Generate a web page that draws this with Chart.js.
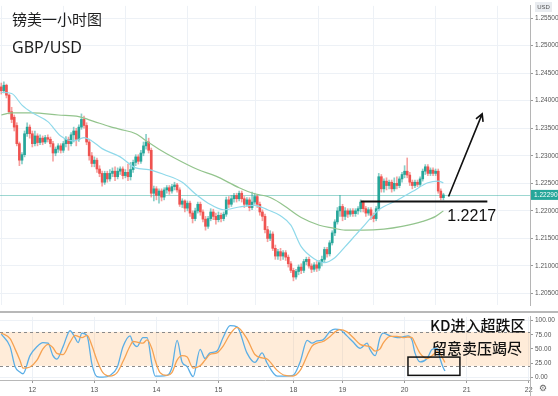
<!DOCTYPE html>
<html>
<head>
<meta charset="utf-8">
<script src="https://cdn.jsdelivr.net/npm/chart.js@4.4.0/dist/chart.umd.min.js"></script>
<style>
html, body { margin: 0; padding: 0; background: #fff; }
#wrap { position: relative; width: 558px; height: 396px; overflow: hidden; }
#pricebox { position: absolute; left: 0; top: 0; width: 558px; height: 311px; }
#kdbox { position: absolute; left: 0; top: 311px; width: 558px; height: 85px; }
</style>
</head>
<body>
<div id="wrap">
	<div id="pricebox"><canvas id="price"></canvas></div>
	<div id="kdbox"><canvas id="kd"></canvas></div>
</div>
<script>
// hourly candles, index 0 = first bar on the left
const opens = [
	1.2425,1.2418,1.2428,1.2410,1.2380,1.2370,1.2355,1.2322,1.2292,1.2302,
	1.2340,1.2352,1.2340,1.2322,1.2336,1.2324,1.2332,1.2325,1.2333,1.2330,
	1.2322,1.2305,1.2312,1.2318,1.2310,1.2322,1.2330,1.2322,1.2338,1.2345,
	1.2330,1.2352,1.2366,1.2355,1.2325,1.2300,1.2286,1.2292,1.2276,1.2268,
	1.2252,1.2268,1.2258,1.2268,1.2272,1.2262,1.2272,1.2276,1.2264,1.2270,
	1.2262,1.2275,1.2288,1.2298,1.2290,1.2305,1.2318,1.2325,1.2310,1.2232,
	1.2240,1.2228,1.2236,1.2225,1.2238,1.2242,1.2236,1.2244,1.2247,1.2238,
	1.2212,1.2218,1.2205,1.2214,1.2196,1.2186,1.2200,1.2212,1.2198,1.2185,
	1.2172,1.2186,1.2198,1.2190,1.2184,1.2192,1.2186,1.2194,1.2220,1.2212,
	1.2222,1.2228,1.2222,1.2232,1.2222,1.2212,1.2220,1.2206,1.2216,1.2226,
	1.2212,1.2198,1.2190,1.2166,1.2150,1.2158,1.2132,1.2118,1.2126,1.2118,
	1.2124,1.2116,1.2104,1.2092,1.2080,1.2090,1.2098,1.2092,1.2108,1.2112,
	1.2100,1.2094,1.2102,1.2096,1.2106,1.2112,1.2130,1.2122,1.2142,1.2160,
	1.2180,1.2200,1.2208,1.2190,1.2200,1.2194,1.2200,1.2195,1.2200,1.2204,
	1.2216,1.2204,1.2196,1.2202,1.2192,1.2186,1.2204,1.2262,1.2240,1.2254,
	1.2246,1.2252,1.2240,1.2250,1.2246,1.2258,1.2266,1.2272,1.2265,1.2252,
	1.2246,1.2252,1.2248,1.2258,1.2272,1.2280,1.2268,1.2274,1.2268,1.2272,
	1.2236,1.2224
];
const closes = [
	1.2418,1.2428,1.2410,1.2380,1.2366,1.2352,1.2322,1.2292,1.2302,1.2340,
	1.2352,1.2340,1.2322,1.2336,1.2324,1.2332,1.2325,1.2333,1.2330,1.2322,
	1.2305,1.2312,1.2318,1.2310,1.2322,1.2330,1.2322,1.2338,1.2345,1.2330,
	1.2352,1.2366,1.2355,1.2325,1.2300,1.2286,1.2292,1.2276,1.2268,1.2252,
	1.2268,1.2258,1.2268,1.2272,1.2262,1.2272,1.2276,1.2264,1.2270,1.2262,
	1.2275,1.2288,1.2298,1.2290,1.2305,1.2318,1.2325,1.2310,1.2232,1.2240,
	1.2228,1.2236,1.2225,1.2238,1.2242,1.2236,1.2244,1.2247,1.2238,1.2212,
	1.2218,1.2205,1.2214,1.2196,1.2186,1.2200,1.2212,1.2198,1.2185,1.2172,
	1.2186,1.2198,1.2190,1.2184,1.2192,1.2186,1.2194,1.2220,1.2212,1.2222,
	1.2228,1.2222,1.2232,1.2222,1.2212,1.2220,1.2206,1.2216,1.2226,1.2212,
	1.2198,1.2190,1.2166,1.2150,1.2158,1.2132,1.2118,1.2126,1.2118,1.2124,
	1.2116,1.2104,1.2092,1.2080,1.2090,1.2098,1.2092,1.2108,1.2112,1.2100,
	1.2094,1.2102,1.2096,1.2106,1.2112,1.2130,1.2122,1.2142,1.2160,1.2180,
	1.2200,1.2208,1.2190,1.2200,1.2194,1.2200,1.2195,1.2200,1.2204,1.2216,
	1.2204,1.2196,1.2202,1.2192,1.2186,1.2204,1.2262,1.2240,1.2254,1.2246,
	1.2252,1.2240,1.2250,1.2246,1.2258,1.2266,1.2272,1.2265,1.2252,1.2246,
	1.2252,1.2248,1.2258,1.2272,1.2280,1.2268,1.2274,1.2268,1.2272,1.2236,
	1.2224,1.2229
];
const highs = [
	1.2432,1.2434,1.2430,1.2412,1.2388,1.2374,1.2360,1.2325,1.2306,1.2345,
	1.2360,1.2356,1.2345,1.2345,1.2340,1.2338,1.2336,1.2337,1.2338,1.2334,
	1.2326,1.2316,1.2322,1.2322,1.2326,1.2335,1.2334,1.2342,1.2352,1.2350,
	1.2356,1.2376,1.2372,1.2360,1.2330,1.2306,1.2298,1.2296,1.2282,1.2272,
	1.2272,1.2272,1.2275,1.2278,1.2280,1.2278,1.2280,1.2280,1.2275,1.2285,
	1.2288,1.2292,1.2302,1.2302,1.2310,1.2325,1.2339,1.2332,1.2314,1.2245,
	1.2244,1.2240,1.2240,1.2242,1.2246,1.2246,1.2248,1.2252,1.2250,1.2242,
	1.2222,1.2220,1.2218,1.2218,1.2200,1.2205,1.2216,1.2216,1.2202,1.2190,
	1.2190,1.2204,1.2203,1.2196,1.2198,1.2196,1.2198,1.2225,1.2226,1.2228,
	1.2232,1.2232,1.2236,1.2236,1.2226,1.2224,1.2224,1.2234,1.2232,1.2230,
	1.2216,1.2202,1.2194,1.2172,1.2164,1.2162,1.2138,1.2130,1.2132,1.2128,
	1.2128,1.2120,1.2108,1.2096,1.2094,1.2102,1.2104,1.2112,1.2116,1.2116,
	1.2104,1.2106,1.2108,1.2110,1.2118,1.2134,1.2134,1.2146,1.2164,1.2184,
	1.2206,1.2228,1.2212,1.2206,1.2204,1.2204,1.2204,1.2204,1.2208,1.2220,
	1.2218,1.2208,1.2206,1.2206,1.2196,1.2208,1.2268,1.2266,1.2258,1.2260,
	1.2256,1.2256,1.2260,1.2262,1.2262,1.2270,1.2282,1.2296,1.2270,1.2256,
	1.2256,1.2256,1.2262,1.2276,1.2284,1.2284,1.2278,1.2278,1.2276,1.2276,
	1.2240,1.2232
];
const lows = [
	1.2412,1.2414,1.2405,1.2376,1.2360,1.2345,1.2318,1.2282,1.2285,1.2298,
	1.2335,1.2332,1.2316,1.2318,1.2318,1.2320,1.2320,1.2322,1.2325,1.2316,
	1.2290,1.2300,1.2306,1.2305,1.2306,1.2316,1.2310,1.2318,1.2325,1.2318,
	1.2326,1.2348,1.2350,1.2320,1.2292,1.2280,1.2280,1.2270,1.2262,1.2245,
	1.2248,1.2252,1.2254,1.2262,1.2255,1.2258,1.2266,1.2258,1.2260,1.2255,
	1.2256,1.2270,1.2282,1.2285,1.2286,1.2300,1.2312,1.2305,1.2225,1.2218,
	1.2220,1.2214,1.2218,1.2220,1.2232,1.2230,1.2232,1.2238,1.2234,1.2208,
	1.2206,1.2198,1.2200,1.2190,1.2178,1.2182,1.2196,1.2192,1.2180,1.2165,
	1.2168,1.2182,1.2184,1.2176,1.2180,1.2180,1.2182,1.2190,1.2206,1.2208,
	1.2216,1.2216,1.2218,1.2216,1.2206,1.2208,1.2200,1.2202,1.2212,1.2206,
	1.2192,1.2182,1.2160,1.2144,1.2146,1.2128,1.2112,1.2112,1.2110,1.2112,
	1.2110,1.2098,1.2088,1.2073,1.2076,1.2084,1.2086,1.2088,1.2102,1.2096,
	1.2088,1.2090,1.2090,1.2092,1.2100,1.2106,1.2116,1.2118,1.2138,1.2155,
	1.2176,1.2190,1.2182,1.2184,1.2188,1.2190,1.2190,1.2190,1.2194,1.2198,
	1.2198,1.2190,1.2192,1.2184,1.2180,1.2182,1.2200,1.2234,1.2234,1.2238,
	1.2240,1.2234,1.2236,1.2240,1.2242,1.2252,1.2260,1.2260,1.2246,1.2240,
	1.2242,1.2244,1.2244,1.2254,1.2266,1.2264,1.2264,1.2264,1.2264,1.2232,
	1.2220,1.2220
];

// moving averages (bar index, price)
const maFastT = [0,4,8,12,18,23,28,32,35,39,46,52,57,63,70,75,80,86,92,98,103,108,112,116,121,125,129,133,137,141,146,153,159,165,169,171];
const maFast = [1.2415,1.2413,1.2392,1.2378,1.2362,1.2336,1.2327,1.2333,1.2327,1.2313,1.2298,1.2278,1.2275,1.2266,1.2252,1.2231,1.2214,1.2202,1.2207,1.2210,1.2202,1.2191,1.2174,1.2135,1.2113,1.2106,1.2115,1.2135,1.2156,1.2177,1.2202,1.2219,1.2235,1.2251,1.2254,1.2251];
const maSlowT = [0,4,12,22,30,36,42,46,52,57,61,67,76,83,92,98,103,108,116,123,128,133,140,148,155,163,168,171];
const maSlow = [1.2374,1.2378,1.2378,1.2374,1.2371,1.2362,1.2353,1.2348,1.2340,1.2324,1.2312,1.2296,1.2275,1.2263,1.2242,1.2231,1.2226,1.2214,1.2188,1.2174,1.2169,1.2165,1.2165,1.2167,1.2172,1.2181,1.2190,1.2200];

// stochastic KD
const kdT = [0,3.4,5.3,7.2,8.4,11.1,13.8,16.1,18.1,20,21.5,23.9,26.6,28.5,29.7,31.2,33.2,35.1,37,39.3,42,44.8,47.1,49.8,51,52.5,54.8,56.4,58.3,59.5,61.4,64.1,66,68,69.9,71.8,74.2,76.9,78.8,80.7,83.4,85.8,88.5,91.2,95,98.1,100.9,102.8,106.7,109.8,112.8,115.6,118.3,120.2,122.1,124.4,127.2,129.1,131,133.7,136.1,138.8,141.5,142.6,144.6,146.5,147.7,150.4,153.1,155.4,157.3,158.9,160,162,164.7,166.6,168.6,169.7,170.9,171.6];
const kLine = [76,54,19,9,6,38,54,61,60,38,32,54,82,70,61,78,73,22,1,0,3,17,54,73,60,54,70,70,22,2,2,3,17,65,27,19,1,49,33,43,46,70,91,89,43,26,43,25,2,2,3,27,65,60,64,66,81,85,84,73,62,51,60,49,38,70,78,73,70,71,73,65,43,27,33,49,51,33,17,11];
const dLine = [78,68,50,30,16,18,30,50,58,52,42,40,62,74,72,70,74,55,30,8,2,8,28,55,63,62,60,66,50,30,8,3,8,30,38,36,16,20,30,40,43,55,76,88,68,40,34,32,12,3,2,12,38,55,60,63,72,80,84,80,70,58,55,54,46,50,60,72,72,70,71,70,60,42,33,38,45,42,32,26];
const kdBand = [20, 80];
const kdTicks = [0, 25, 50, 75, 100];

// axis
const tickPos = [12, 36, 60, 84, 113, 132, 156, 180, 204];
const dayLabels = ['12', '13', '14', '15', '18', '19', '20', '21', '22'];
const priceTicks = [1.205, 1.21, 1.215, 1.22, 1.225, 1.23, 1.235, 1.24, 1.245, 1.25, 1.255];

// drawn-on notes
const supportLevel = 1.2217;
const supportFrom = 139, supportTo = 188;
const arrowFrom = [173, 1.2226], arrowTo = [186, 1.2376];

const UP = '#26a69a', DOWN = '#ef5350';
const UP_WICK = 'rgba(38,166,154,0.55)', DOWN_WICK = 'rgba(239,83,80,0.55)';
const GRID = '#edf1f6';
const TICK_FONT = {family: 'Liberation Sans', size: 6.5};

const isUp = i => closes[i] >= opens[i];

const priceExtras = {
	id: 'priceExtras',
	beforeDatasetsDraw(chart) {
		const {ctx, chartArea: a, scales: {y}} = chart;
		const py = Math.round(y.getPixelForValue(closes[closes.length - 1])) + 0.5;
		ctx.save();
		ctx.strokeStyle = 'rgba(38,166,154,0.45)';
		ctx.lineWidth = 1;
		ctx.beginPath();
		ctx.moveTo(a.left, py);
		ctx.lineTo(a.right, py);
		ctx.stroke();
		ctx.restore();
	},
	afterDraw(chart) {
		const {ctx, chartArea: a, scales: {x, y}} = chart;
		ctx.save();
		// title
		ctx.fillStyle = '#1e1e1e';
		ctx.textBaseline = 'alphabetic';
		ctx.font = '15px "Noto Sans CJK SC"';
		ctx.fillText('镑美一小时图', 12, 25);
		ctx.font = '16px "Noto Sans"';
		ctx.fillText('GBP/USD', 12, 52.5);

		// last price tag
		const last = closes[closes.length - 1];
		const py = y.getPixelForValue(last);
		ctx.fillStyle = UP;
		ctx.fillRect(a.right + 1, py - 5, 27, 10);
		ctx.fillStyle = '#fff';
		ctx.font = '6.5px "Liberation Sans"';
		ctx.textBaseline = 'middle';
		ctx.fillText(last.toFixed(5), a.right + 4, py + 0.5);

		// currency badge
		ctx.fillStyle = '#e9ecf0';
		ctx.fillRect(535, 2, 17, 10);
		ctx.fillStyle = '#555';
		ctx.font = '6px "Liberation Sans"';
		ctx.textAlign = 'center';
		ctx.fillText('USD', 543.5, 7.5);
		ctx.textAlign = 'left';

		// support line and label
		const sy = y.getPixelForValue(supportLevel);
		ctx.strokeStyle = '#111';
		ctx.lineWidth = 2;
		ctx.beginPath();
		ctx.moveTo(x.getPixelForValue(supportFrom), sy);
		ctx.lineTo(x.getPixelForValue(supportTo), sy);
		ctx.stroke();
		ctx.fillStyle = '#111';
		ctx.font = '16px "Liberation Sans"';
		ctx.textBaseline = 'alphabetic';
		ctx.fillText(supportLevel.toFixed(4), x.getPixelForValue(172.5), sy + 19);

		// arrow
		const x0 = x.getPixelForValue(arrowFrom[0]), y0 = y.getPixelForValue(arrowFrom[1]);
		const x1 = x.getPixelForValue(arrowTo[0]), y1 = y.getPixelForValue(arrowTo[1]);
		const ang = Math.atan2(y1 - y0, x1 - x0);
		ctx.lineWidth = 1.6;
		ctx.beginPath();
		ctx.moveTo(x0, y0);
		ctx.lineTo(x1, y1);
		ctx.moveTo(x1 - 8 * Math.cos(ang - 0.5), y1 - 8 * Math.sin(ang - 0.5));
		ctx.lineTo(x1, y1);
		ctx.lineTo(x1 - 8 * Math.cos(ang + 0.5), y1 - 8 * Math.sin(ang + 0.5));
		ctx.stroke();
		ctx.restore();
	}
};

const price = new Chart(document.getElementById('price'), {
	type: 'bar',
	data: {
		datasets: [
			{
				type: 'line',
				data: maFastT.map((t, i) => ({x: t, y: maFast[i]})),
				borderColor: '#8fd9ea',
				borderWidth: 1.2,
				pointRadius: 0,
				cubicInterpolationMode: 'monotone',
				order: 1
			},
			{
				type: 'line',
				data: maSlowT.map((t, i) => ({x: t, y: maSlow[i]})),
				borderColor: '#93c48d',
				borderWidth: 1.2,
				pointRadius: 0,
				cubicInterpolationMode: 'monotone',
				order: 1
			},
			{
				// wicks
				data: closes.map((c, i) => ({x: i, y: [lows[i], highs[i]]})),
				backgroundColor: ctx => isUp(ctx.dataIndex) ? UP_WICK : DOWN_WICK,
				barThickness: 1,
				grouped: false,
				order: 3
			},
			{
				// bodies
				data: closes.map((c, i) => ({x: i, y: [opens[i], c]})),
				backgroundColor: ctx => isUp(ctx.dataIndex) ? UP : DOWN,
				barThickness: 2,
				minBarLength: 1,
				grouped: false,
				order: 2
			}
		]
	},
	options: {
		responsive: true,
		maintainAspectRatio: false,
		animation: false,
		layout: {padding: 0, autoPadding: false},
		plugins: {
			legend: {display: false},
			tooltip: {enabled: false}
		},
		scales: {
			x: {
				type: 'linear',
				min: -0.5,
				max: 204.5,
				offset: false,
				afterBuildTicks: s => { s.ticks = tickPos.map(v => ({value: v})); },
				afterFit: s => { s.height = 0; },
				ticks: {display: false},
				grid: {color: GRID, drawTicks: false},
				border: {display: false}
			},
			y: {
				position: 'right',
				min: 1.2029,
				max: 1.2572,
				afterBuildTicks: s => { s.ticks = priceTicks.map(v => ({value: v})); },
				afterFit: s => { s.width = 28; },
				ticks: {
					callback: v => v.toFixed(5),
					font: TICK_FONT,
					color: '#555',
					padding: 2
				},
				grid: {color: GRID, tickLength: 3, tickColor: '#999'},
				border: {color: '#b5b5b5'}
			}
		}
	},
	plugins: [priceExtras]
});

const kdExtras = {
	id: 'kdExtras',
	beforeDatasetsDraw(chart) {
		const {ctx, chartArea: a, scales: {y}} = chart;
		const yHi = y.getPixelForValue(kdBand[1]), yLo = y.getPixelForValue(kdBand[0]);
		ctx.save();
		ctx.fillStyle = 'rgba(255,170,80,0.22)';
		ctx.fillRect(a.left, yHi, a.right - a.left, yLo - yHi);
		ctx.setLineDash([3, 3]);
		ctx.strokeStyle = '#8a8a8a';
		ctx.lineWidth = 1;
		[yHi, yLo].forEach(p => {
			ctx.beginPath();
			ctx.moveTo(a.left, Math.round(p) + 0.5);
			ctx.lineTo(a.right, Math.round(p) + 0.5);
			ctx.stroke();
		});
		ctx.restore();
	},
	afterDraw(chart) {
		const {ctx, chartArea: a, scales: {x, y}} = chart;
		ctx.save();
		// panel separator
		ctx.strokeStyle = '#b8b8b8';
		ctx.lineWidth = 2;
		ctx.beginPath();
		ctx.moveTo(0, 1);
		ctx.lineTo(chart.width, 1);
		ctx.stroke();
		ctx.lineWidth = 1;
		ctx.beginPath();
		ctx.moveTo(a.right + 0.5, a.bottom);
		ctx.lineTo(a.right + 0.5, chart.height);
		ctx.stroke();

		// notes
		ctx.fillStyle = '#111';
		ctx.font = '500 15px "Noto Sans CJK SC"';
		ctx.textBaseline = 'alphabetic';
		ctx.fillText('KD进入超跌区', x.getPixelForValue(165.8), y.getPixelForValue(82));
		ctx.fillText('留意卖压竭尽', x.getPixelForValue(166.6), y.getPixelForValue(41));
		ctx.strokeStyle = '#111';
		ctx.lineWidth = 1.5;
		const bx = x.getPixelForValue(157.3), by = y.getPixelForValue(35.5);
		ctx.strokeRect(bx, by, x.getPixelForValue(177.4) - bx, y.getPixelForValue(3.2) - by);

		// settings glyph
		ctx.fillStyle = '#666';
		ctx.font = '9px "DejaVu Sans"';
		ctx.textAlign = 'center';
		ctx.textBaseline = 'middle';
		ctx.fillText('\u2699', a.right + 13, a.bottom + 9);
		ctx.restore();
	}
};

const kd = new Chart(document.getElementById('kd'), {
	type: 'line',
	data: {
		datasets: [
			{
				data: kdT.map((t, i) => ({x: t, y: dLine[i]})),
				borderColor: '#f6a251',
				borderWidth: 1.3,
				pointRadius: 0,
				cubicInterpolationMode: 'monotone'
			},
			{
				data: kdT.map((t, i) => ({x: t, y: kLine[i]})),
				borderColor: '#5aaee6',
				borderWidth: 1.3,
				pointRadius: 0,
				cubicInterpolationMode: 'monotone'
			}
		]
	},
	options: {
		responsive: true,
		maintainAspectRatio: false,
		animation: false,
		layout: {padding: 0, autoPadding: false},
		plugins: {
			legend: {display: false},
			tooltip: {enabled: false}
		},
		scales: {
			x: {
				type: 'linear',
				min: -0.5,
				max: 204.5,
				afterBuildTicks: s => { s.ticks = tickPos.map(v => ({value: v})); },
				afterFit: s => { s.height = 16; },
				ticks: {
					callback: (v, i) => dayLabels[i],
					autoSkip: false,
					maxRotation: 0,
					font: {family: 'Liberation Sans', size: 7},
					color: '#555',
					padding: 3
				},
				grid: {color: GRID, tickLength: 3, tickColor: '#999'},
				border: {color: '#b8b8b8'}
			},
			y: {
				position: 'right',
				min: -5,
				max: 106.5,
				afterBuildTicks: s => { s.ticks = kdTicks.map(v => ({value: v})); },
				afterFit: s => { s.width = 28; },
				ticks: {
					callback: v => v.toFixed(2),
					font: TICK_FONT,
					color: '#555',
					padding: 2
				},
				grid: {
					color: c => (c.tick && (c.tick.value === 0 || c.tick.value === 100)) ? GRID : 'rgba(0,0,0,0)',
					tickLength: 3,
					tickColor: '#999'
				},
				border: {color: '#b5b5b5'}
			}
		}
	},
	plugins: [kdExtras]
});
</script>
</body>
</html>
